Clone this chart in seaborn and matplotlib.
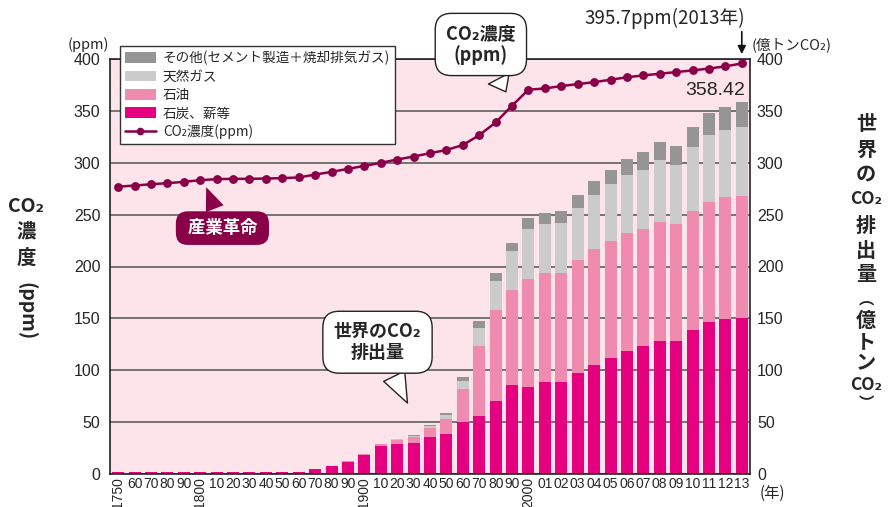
import matplotlib
matplotlib.use("Agg")
import matplotlib.pyplot as plt
import numpy as np
import pandas as pd
import seaborn as sns
from matplotlib.patches import Patch
from matplotlib.lines import Line2D
from matplotlib import font_manager

# ---------------- data ----------------
years = [1750, 1760, 1770, 1780, 1790, 1800, 1810, 1820, 1830, 1840,
         1850, 1860, 1870, 1880, 1890, 1900, 1910, 1920, 1930, 1940,
         1950, 1960, 1970, 1980, 1990, 2000, 2001, 2002, 2003, 2004,
         2005, 2006, 2007, 2008, 2009, 2010, 2011, 2012, 2013]
tick_labels = ["1750", "60", "70", "80", "90", "1800", "10", "20", "30", "40",
               "50", "60", "70", "80", "90", "1900", "10", "20", "30", "40",
               "50", "60", "70", "80", "90", "2000", "01", "02", "03", "04",
               "05", "06", "07", "08", "09", "10", "11", "12", "13"]
rotated_labels = ["1750", "1800", "1900", "2000"]

# emissions (100 million t CO2)
coal = [1.6, 1.6, 1.6, 1.6, 1.7, 1.7, 1.7, 1.8, 1.8, 1.8,
        1.9, 2.4, 5.0, 7.9, 12.0, 18.5, 27.0, 29.0, 30.0, 35.7,
        38.9, 50.0, 56.0, 70.4, 85.8, 84.0, 88.7, 88.7, 97.4, 105.0,
        111.9, 118.6, 123.4, 128.3, 128.3, 138.9, 146.6, 149.5, 150.4]
oil = [0, 0, 0, 0, 0, 0, 0, 0, 0, 0,
       0, 0, 0, 0, 0.9, 1.0, 2.0, 4.0, 5.7, 8.7,
       14.1, 32.0, 67.4, 87.6, 91.7, 104.0, 105.1, 105.1, 109.0, 112.0,
       112.8, 113.8, 112.9, 114.7, 112.7, 114.7, 115.4, 117.5, 117.6]
gas = [0, 0, 0, 0, 0, 0, 0, 0, 0, 0,
       0, 0, 0, 0, 0, 0, 0, 1.0, 1.3, 1.9,
       4.0, 7.7, 17.6, 28.4, 37.5, 48.3, 47.2, 48.2, 50.1, 52.0,
       54.9, 55.9, 56.7, 59.8, 57.0, 61.7, 65.0, 64.7, 66.6]
other = [0, 0, 0, 0, 0, 0, 0, 0, 0, 0,
         0, 0, 0, 0, 0, 0, 0, 0, 1.0, 1.2,
         2.0, 3.8, 6.5, 7.1, 7.8, 10.6, 10.7, 11.6, 12.5, 13.5,
         13.4, 15.5, 17.5, 17.2, 18.3, 19.3, 21.0, 22.3, 23.8]
# CO2 concentration (ppm)
ppm = [277.0, 278.0, 279.3, 280.3, 281.6, 283.2, 284.2, 284.5, 284.5, 284.8,
       285.2, 285.8, 288.6, 291.2, 294.1, 297.0, 299.9, 303.1, 306.0, 309.2,
       312.3, 317.0, 326.6, 338.8, 355.0, 370.4, 371.6, 373.9, 375.8, 377.7,
       380.0, 382.4, 384.2, 385.8, 387.4, 389.0, 390.8, 392.9, 395.7]

legend_labels = ["その他(セメント製造＋焼却排気ガス)", "天然ガス", "石油", "石炭、薪等", "CO₂濃度(ppm)"]
yticks = [0, 50, 100, 150, 200, 250, 300, 350, 400]

# ---------------- style ----------------
C_COAL = "#E4007F"
C_OIL = "#F08BB0"
C_GAS = "#CBCBCB"
C_OTHER = "#959595"
C_LINE = "#8A0048"
C_BG = "#FDE4EA"

sns.set_theme(style="white")
JP = ["Noto Sans CJK JP", "DejaVu Sans"]
plt.rcParams["font.family"] = JP
names = {f.name for f in font_manager.fontManager.ttflist}
NUM = "Liberation Sans" if "Liberation Sans" in names else "DejaVu Sans"
if "Liberation Sans Narrow" in names:
    NARROW, XFS = "Liberation Sans Narrow", 12
else:
    NARROW, XFS = NUM, 10

W, H = 888, 507
fig = plt.figure(figsize=(W / 100, H / 100), dpi=100)
ax = fig.add_axes([110 / W, 33 / H, 640 / W, 415 / H])
ax.set_facecolor(C_BG)


def fp(x, y):
    return (x / W, 1 - y / H)


df = pd.DataFrame({"year": [str(y) for y in years], "coal": coal, "oil": oil,
                   "gas": gas, "other": other, "ppm": ppm})
df["s1"] = df["coal"]
df["s2"] = df["s1"] + df["oil"]
df["s3"] = df["s2"] + df["gas"]
df["s4"] = df["s3"] + df["other"]
order = df["year"].tolist()

for col, colr in [("s4", C_OTHER), ("s3", C_GAS), ("s2", C_OIL), ("s1", C_COAL)]:
    sns.barplot(data=df, x="year", y=col, order=order, color=colr, saturation=1,
                width=0.73, errorbar=None, linewidth=0, ax=ax)

sns.pointplot(data=df, x="year", y="ppm", order=order, color=C_LINE, markers="o",
              markersize=5, linewidth=1.8, errorbar=None, ax=ax)
for ln in ax.lines:
    ln.set_zorder(5)
for c in ax.collections:
    c.set_zorder(6)

ax.set_xlim(-0.5, len(years) - 0.5)
ax.set_ylim(0, 400)
ax.set_yticks(yticks)
ax.set_yticklabels([str(v) for v in yticks], fontfamily=NUM, fontsize=11.5)
ax.yaxis.grid(True, color="#6a6a6a", lw=1.3)
ax.xaxis.grid(False)
ax.set_axisbelow(True)
ax.set_xlabel("")
ax.set_ylabel("")
ax.tick_params(axis="y", length=0, pad=7)
ax.tick_params(axis="x", length=0, pad=2)
ax.set_xticks(range(len(years)))
ax.set_xticklabels(tick_labels, fontfamily=NARROW, fontsize=XFS)
for t in ax.get_xticklabels():
    if t.get_text() in rotated_labels:
        t.set_rotation(90)
        t.set_va("top")
for s in ax.spines.values():
    s.set_color("#222222")
    s.set_linewidth(1.2)
    s.set_visible(True)

ax2 = ax.twinx()
ax2.set_ylim(0, 400)
ax2.set_yticks(yticks)
ax2.set_yticklabels([str(v) for v in yticks], fontfamily=NUM, fontsize=11.5)
ax2.tick_params(axis="y", length=0, pad=5)
ax2.grid(False)
for s in ax2.spines.values():
    s.set_visible(False)

# legend
handles = [Patch(fc=C_OTHER, ec="none"), Patch(fc=C_GAS, ec="none"),
           Patch(fc=C_OIL, ec="none"), Patch(fc=C_COAL, ec="none"),
           Line2D([0], [0], color=C_LINE, lw=1.8, marker="o", markersize=4.5)]
leg = fig.legend(handles, legend_labels, loc="upper left", bbox_to_anchor=fp(120, 46),
                 frameon=True, fancybox=False, framealpha=1, edgecolor="#333333",
                 fontsize=9.8, handlelength=2.3, handleheight=0.85, labelspacing=0.32,
                 borderpad=0.35, handletextpad=0.5, borderaxespad=0)
leg.get_frame().set_linewidth(1.0)
leg.set_zorder(20)

# axis titles
fig.text(*fp(88, 45), "(ppm)", ha="center", va="center", fontsize=10.5)
fig.text(*fp(752, 45), "(億トンCO₂)", ha="left", va="center", fontsize=10.5)
fig.text(*fp(760, 493), "(年)", ha="left", va="center", fontsize=11)

# left vertical title
fig.text(*fp(26, 206), "CO₂", ha="center", va="center", fontsize=14, fontweight="bold")
fig.text(*fp(26, 232), "濃", ha="center", va="center", fontsize=14, fontweight="bold")
fig.text(*fp(26, 258), "度", ha="center", va="center", fontsize=14, fontweight="bold")
fig.text(*fp(26, 311), "(ppm)", ha="center", va="center", fontsize=14,
         fontweight="bold", rotation=270)

# right vertical title
right_title = [("世", 124), ("界", 149), ("の", 174), ("CO₂", 199), ("排", 225),
               ("出", 250), ("量", 274), ("︵", 298), ("億", 320), ("ト", 342),
               ("ン", 363), ("CO₂", 385), ("︶", 403)]
for ch, yy in right_title:
    if ch == "CO₂":
        fs = 12.5
    elif ch in ("︵", "︶"):
        fs = 11
    else:
        fs = 14.5
    fig.text(*fp(866, yy), ch, ha="center", va="center", fontsize=fs, fontweight="bold")

# value labels
fig.text(*fp(665, 18), "395.7ppm(2013年)", ha="center", va="center", fontsize=13.5)
ax.annotate("", xy=(38, 402), xytext=(38, 429),
            arrowprops=dict(arrowstyle="-|>", color="#111111", lw=1.2, mutation_scale=12),
            annotation_clip=False)
ax.text(38.2, 370, "358.42", ha="right", va="center", fontsize=14, fontfamily=NUM)

# speech bubbles
ax.annotate("CO₂濃度\n(ppm)", xy=(23.7, 366), xytext=(22.1, 414), ha="center",
            va="center", fontsize=13, fontweight="bold", linespacing=1.1,
            bbox=dict(boxstyle="round,pad=0.6,rounding_size=0.9", fc="white", ec="#222222", lw=1),
            arrowprops=dict(arrowstyle="wedge,tail_width=1.3,shrink_factor=0.5", fc="white",
                            ec="#222222", lw=1),
            annotation_clip=False, zorder=15)
ax.annotate("世界のCO₂\n排出量", xy=(17.7, 66), xytext=(15.8, 127), ha="center",
            va="center", fontsize=13, fontweight="bold", linespacing=1.15,
            bbox=dict(boxstyle="round,pad=0.6,rounding_size=0.9", fc="white", ec="#222222", lw=1),
            arrowprops=dict(arrowstyle="wedge,tail_width=1.3,shrink_factor=0.5", fc="white",
                            ec="#222222", lw=1),
            annotation_clip=False, zorder=15)
ax.annotate(" 産業革命 ", xy=(5.3, 279), xytext=(6.35, 237), ha="center",
            va="center", fontsize=12.5, fontweight="bold", color="white",
            bbox=dict(boxstyle="round,pad=0.45,rounding_size=0.7", fc=C_LINE, ec="none"),
            arrowprops=dict(arrowstyle="wedge,tail_width=1.1,shrink_factor=0.5", fc=C_LINE,
                            ec="none"),
            annotation_clip=False, zorder=15)

fig.savefig("out.png", dpi=100)
